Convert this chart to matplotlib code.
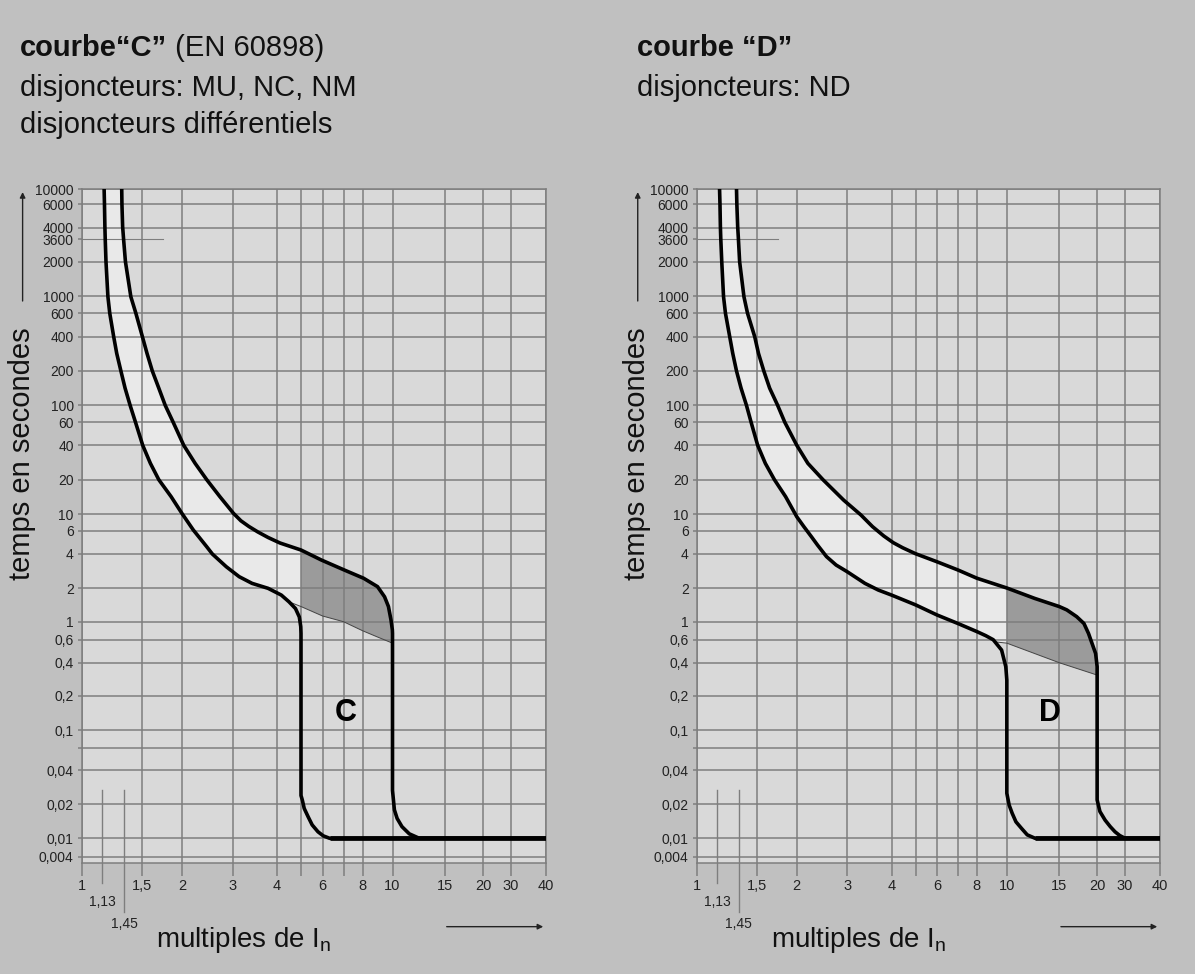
import numpy as np
import matplotlib
matplotlib.use('Agg')
import matplotlib.pyplot as plt

plt.rcParams['font.family'] = ['Liberation Sans', 'DejaVu Sans']
plt.rcParams['mathtext.fontset'] = 'custom'
plt.rcParams['mathtext.rm'] = 'Liberation Sans'

# the printed grid is not a true log grid: calibrate it from the tick positions
x_grid_vals = [1, 1.13, 1.45, 1.5, 2, 3, 4, 5, 6, 7, 8, 10, 15, 20, 30, 40]
x_grid_pos = [0, 20, 42, 60, 100, 150.5, 195, 219, 240.5, 261.5, 280.5, 310.5, 363, 401, 429, 464]
y_grid_vals = [0.003, 0.004, 0.01, 0.02, 0.04, 0.06, 0.1, 0.2, 0.4, 0.6, 1, 2, 4, 6, 10, 20,
               40, 60, 100, 200, 400, 600, 1000, 2000, 3600, 4000, 6000, 10000]
y_grid_pos = [0, 6, 24.4, 58.7, 92.7, 114.4, 132.7, 167, 200, 223, 241, 274.7, 309, 332, 348.4, 383,
              417.4, 440.4, 457.4, 491.7, 526, 549.4, 566.4, 601, 623.4, 635, 658.4, 673.4]

x_ticks = [1, 1.5, 2, 3, 4, 5, 6, 7, 8, 10, 15, 20, 30, 40]
x_labels = ['1', '1,5', '2', '3', '4', '', '6', '', '8', '10', '15', '20', '30', '40']
y_ticks = [0.004, 0.01, 0.02, 0.04, 0.06, 0.1, 0.2, 0.4, 0.6, 1, 2, 4, 6, 10, 20, 40, 60,
           100, 200, 400, 600, 1000, 2000, 3600, 4000, 6000, 10000]
y_labels = ['0,004', '0,01', '0,02', '0,04', '', '0,1', '0,2', '0,4', '0,6', '1', '2', '4', '6',
            '10', '20', '40', '60', '100', '200', '400', '600', '1000', '2000', '3600', '4000',
            '6000', '10000']

# courbe C : multiples de In -> temps (s)
c_low_x = [1.161, 1.166, 1.172, 1.177, 1.188, 1.216, 1.243, 1.30, 1.344, 1.405,
           1.453, 1.467, 1.482, 1.509, 1.605, 1.71, 1.864, 1.998, 2.224, 2.489,
           2.602, 2.877, 3.15, 3.44, 3.80, 4.18, 4.5, 4.77, 4.93, 4.99,
           5.0, 5.0, 5.06, 5.15, 5.33, 5.52, 5.79, 6.04, 6.34, 40]
c_low_t = [10000, 6000, 4100, 3600, 2000, 990, 600, 400, 303, 200,
           150, 100, 60, 40, 29.5, 20, 15.1, 10.3, 6.17, 4.61,
           3.98, 3.24, 2.66, 2.27, 1.99, 1.79, 1.59, 1.39, 1.14, 0.89,
           0.74, 0.025, 0.0224, 0.0187, 0.0163, 0.0139, 0.0119, 0.0107, 0.01, 0.01]
c_up_x = [1.417, 1.42, 1.43, 1.444, 1.454, 1.469, 1.483, 1.505, 1.5625, 1.629,
          1.71, 1.79, 1.89, 2.034, 2.26, 2.49, 2.75, 3.02, 3.19, 3.37,
          3.57, 3.80, 4.125, 5.0, 5.95, 7.04, 8.07, 9.0, 9.47, 9.73,
          9.9, 9.99, 10.0, 10.0, 10.18, 10.44, 10.9, 11.6, 12.55, 40]
c_up_t = [10000, 6000, 4100, 3600, 2000, 990, 600, 400, 303, 200,
          150, 100, 60, 40, 29.5, 20, 15.1, 10.3, 8.41, 7.02,
          5.89, 5.41, 4.93, 4.32, 3.63, 3.05, 2.57, 2.08, 1.74, 1.45,
          1.05, 0.82, 0.74, 0.028, 0.0183, 0.0158, 0.0134, 0.0113, 0.01, 0.01]
c_thin_x = [4.5, 5.0, 6.0, 7.0, 8.0, 9.0, 10.0]
c_thin_t = [1.59, 1.45, 1.17, 1.0, 0.8, 0.66, 0.57]

# courbe D
d_low_x = [1.168, 1.174, 1.18, 1.186, 1.20, 1.226, 1.254, 1.316, 1.36, 1.415,
           1.456, 1.471, 1.484, 1.51, 1.606, 1.72, 1.86, 2.0, 2.14, 2.29,
           2.41, 2.59, 2.78, 3.0, 3.4, 3.7, 4.0, 5.0, 6.0, 7.0,
           8.0, 8.59, 9.09, 9.65, 9.93, 10.0, 10.0, 10.22, 10.51, 10.87,
           11.4, 11.95, 12.7, 40]
d_low_t = [10000, 6000, 4100, 3600, 2000, 990, 600, 400, 303, 200,
           150, 100, 60, 40, 29.5, 20, 15.1, 9.4, 7.0, 5.48,
           4.76, 3.83, 3.34, 2.95, 2.27, 1.94, 1.79, 1.5, 1.2, 0.96,
           0.78, 0.69, 0.6, 0.51, 0.376, 0.295, 0.0263, 0.0197, 0.0173, 0.0148,
           0.0129, 0.011, 0.01, 0.01]
d_up_x = [1.415, 1.42, 1.432, 1.443, 1.452, 1.464, 1.474, 1.494, 1.52, 1.587,
          1.66, 1.76, 1.85, 2.0, 2.22, 2.52, 2.93, 3.31, 3.57, 3.825,
          4.07, 4.46, 5.0, 6.0, 7.0, 8.0, 10.0, 12.67, 15.0, 16.0,
          17.3, 18.26, 18.86, 19.8, 20.0, 20.0, 21.0, 22.85, 24.7, 26.4,
          28.1, 30, 40]
d_up_t = [10000, 6000, 4100, 3600, 2000, 990, 600, 400, 303, 200,
          150, 100, 60, 40, 29.5, 20, 14.1, 9.83, 7.0, 5.54,
          4.96, 4.52, 4.0, 3.53, 3.05, 2.57, 2.0, 1.69, 1.45, 1.35,
          1.15, 0.96, 0.74, 0.48, 0.376, 0.0224, 0.0178, 0.0153, 0.0134, 0.0119,
          0.0108, 0.01, 0.01]
d_thin_x = [9.3, 10, 15, 20]
d_thin_t = [0.58, 0.57, 0.4, 0.325]

BG = '#c0c0c0'
PLOT_BG = '#d9d9d9'
LIGHT = '#e9e9e9'
DARK = '#9b9b9b'
GRID = '#7e7e7e'


def interp_funcs(vals, pos):
    vals = np.asarray(vals, float)
    pos = np.asarray(pos, float)
    return (lambda v: np.interp(v, vals, pos)), (lambda p: np.interp(p, pos, vals))


def draw_chart(ax, low_x, low_t, up_x, up_t, thin_x, thin_t, split, letter, letter_x):
    ax.set_xscale('function', functions=interp_funcs(x_grid_vals, x_grid_pos))
    ax.set_yscale('function', functions=interp_funcs(y_grid_vals, y_grid_pos))
    ax.set_xlim(1, 40)
    ax.set_ylim(0.003, 10000)
    ax.set_facecolor(PLOT_BG)

    lx, lt = np.array(low_x), np.array(low_t)
    ux, ut = np.array(up_x), np.array(up_t)
    tx, tt = np.array(thin_x), np.array(thin_t)

    # light band between the two curves, up to the split line
    m_up = (ux <= split) & (ut > 0.1)
    m_thin = tx <= split
    m_low = (lx <= tx[0]) & (lt >= tt[0])
    px = np.concatenate([ux[m_up], tx[m_thin][::-1], lx[m_low][::-1]])
    py = np.concatenate([ut[m_up], tt[m_thin][::-1], lt[m_low][::-1]])
    ax.fill(px, py, color=LIGHT, lw=0, zorder=1)

    # dark zone after the split
    m_up2 = (ux >= split) & (ut > 0.1)
    m_thin2 = tx >= split
    px = np.concatenate([ux[m_up2], tx[m_thin2][::-1]])
    py = np.concatenate([ut[m_up2], tt[m_thin2][::-1]])
    ax.fill(px, py, color=DARK, lw=0, zorder=1)

    # grid
    for y in y_ticks:
        if y == 3600:
            ax.plot([1, 1.76], [y, y], color=GRID, lw=0.8, zorder=2)
        else:
            ax.axhline(y, color=GRID, lw=1.1, zorder=2)
    for x in x_ticks:
        ax.axvline(x, color=GRID, lw=1.1, zorder=2)

    ax.plot(thin_x, thin_t, color='#444444', lw=0.7, zorder=3)
    ax.plot(low_x, low_t, color='black', lw=2.6, zorder=4, solid_joinstyle='round')
    ax.plot(up_x, up_t, color='black', lw=2.6, zorder=4, solid_joinstyle='round')
    ax.plot([min(low_x[-2], up_x[-2]), 40], [0.01, 0.01], color='black', lw=3.4, zorder=4,
            solid_capstyle='butt')

    ax.text(letter_x, 0.15, letter, fontsize=22, fontweight='bold', ha='center', va='center',
            zorder=5)

    ax.set_xticks(x_ticks)
    ax.set_xticklabels(x_labels)
    ax.set_yticks(y_ticks)
    ax.set_yticklabels(y_labels)
    ax.minorticks_off()
    ax.tick_params(axis='x', direction='out', length=9, width=1.1, color=GRID, pad=3,
                   labelsize=10.5, labelcolor='#222222')
    ax.tick_params(axis='y', direction='out', length=3, width=1.1, color=GRID, pad=3,
                   labelsize=10, labelcolor='#222222')
    for s in ax.spines.values():
        s.set_color(GRID)
        s.set_linewidth(1.1)

    # short marks at 1,13 and 1,45
    to_axes = ax.transData + ax.transAxes.inverted()
    y_top = to_axes.transform((2, 0.028))[1]
    xt = ax.get_xaxis_transform()
    ax.plot([1.13, 1.13], [y_top, -0.030], color=GRID, lw=1.0, transform=xt, clip_on=False)
    ax.plot([1.45, 1.45], [y_top, -0.073], color=GRID, lw=1.0, transform=xt, clip_on=False)
    ax.text(1.13, -0.058, '1,13', transform=xt, ha='center', va='center', fontsize=10,
            color='#222222')
    ax.text(1.45, -0.091, '1,45', transform=xt, ha='center', va='center', fontsize=10,
            color='#222222')

    # axis titles with arrows
    ax.text(0.16, -0.115, 'multiples de I$_{\\rm n}$', transform=ax.transAxes, fontsize=20,
            ha='left', va='center', color='#111111')
    ax.annotate('', xy=(1.0, -0.095), xytext=(0.78, -0.095), xycoords='axes fraction',
                arrowprops=dict(arrowstyle='-|>', color='#222222', lw=1.0, mutation_scale=8))
    ax.text(-0.13, 0.607, 'temps en secondes', transform=ax.transAxes, rotation=90,
            fontsize=21, ha='center', va='center', color='#111111')
    ax.annotate('', xy=(-0.128, 1.0), xytext=(-0.128, 0.83), xycoords='axes fraction',
                arrowprops=dict(arrowstyle='-|>', color='#222222', lw=1.0, mutation_scale=8))


W, H = 1195, 974
fig = plt.figure(figsize=(W / 100, H / 100), dpi=100, facecolor=BG)
ax1 = fig.add_axes([82 / W, 1 - 862.7 / H, 464 / W, 673.4 / H])
ax2 = fig.add_axes([697 / W, 1 - 862.7 / H, 463 / W, 673.4 / H])

draw_chart(ax1, c_low_x, c_low_t, c_up_x, c_up_t, c_thin_x, c_thin_t, 5.0, 'C', 7.1)
draw_chart(ax2, d_low_x, d_low_t, d_up_x, d_up_t, d_thin_x, d_thin_t, 10.0, 'D', 14.1)

# headers
t1 = fig.text(20 / W, 1 - 48 / H, 'courbe“C”', fontsize=21, fontweight='bold', va='center',
              color='#111111')
ax1.annotate(' (EN 60898)', xy=(1, 0), xycoords=t1, va='bottom', fontsize=21, color='#111111',
             annotation_clip=False)
fig.text(20 / W, 1 - 88 / H, 'disjoncteurs: MU, NC, NM', fontsize=21, va='center',
         color='#111111')
fig.text(20 / W, 1 - 125 / H, 'disjoncteurs différentiels', fontsize=21, va='center',
         color='#111111')
fig.text(637 / W, 1 - 48 / H, 'courbe “D”', fontsize=21, fontweight='bold', va='center',
         color='#111111')
fig.text(637 / W, 1 - 88 / H, 'disjoncteurs: ND', fontsize=21, va='center', color='#111111')

fig.savefig('out.png', dpi=100, facecolor=BG)
